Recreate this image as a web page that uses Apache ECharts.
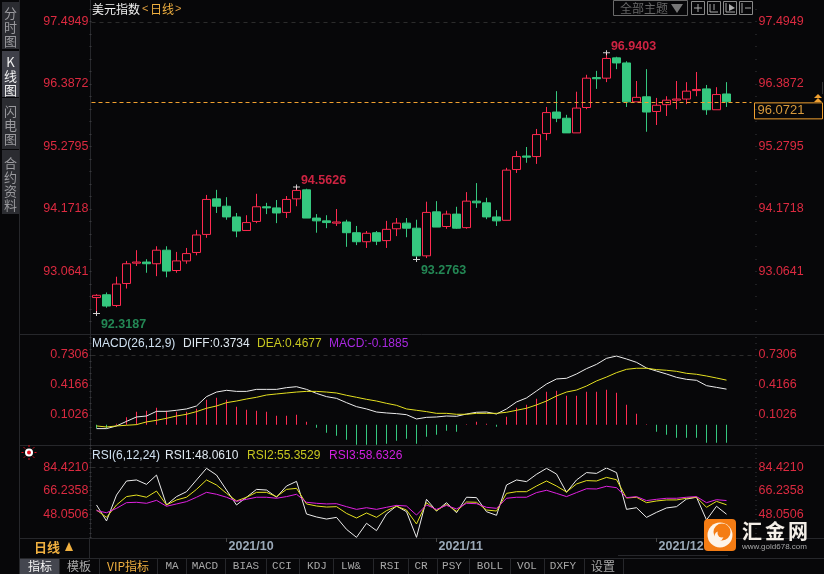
<!DOCTYPE html>
<html>
<head>
<meta charset="utf-8">
<style>html,body{margin:0;padding:0;background:#070709;overflow:hidden}#c{width:824px;height:574px}</style>
<script src="https://cdn.jsdelivr.net/npm/echarts@6/dist/echarts.min.js"></script>
</head>
<body>
<div id="c"></div>
<script>
// Daily candles of the US dollar index: [open, close, low, high]
const candles = [
[92.60,92.64,92.3187,92.66],[92.65,92.45,92.42,92.69],[92.46,92.84,92.43,92.97],[92.85,93.20,92.76,93.25],
[93.21,93.23,93.16,93.44],[93.23,93.20,93.04,93.28],[93.20,93.44,92.98,93.51],[93.44,93.07,92.96,93.51],
[93.08,93.25,93.04,93.41],[93.25,93.38,93.20,93.48],[93.40,93.71,93.35,93.80],[93.72,94.34,93.66,94.42],
[94.35,94.22,94.10,94.51],[94.22,94.03,93.98,94.38],[94.03,93.78,93.67,94.10],[93.79,93.93,93.78,94.06],
[93.95,94.21,93.92,94.44],[94.21,94.19,94.08,94.28],[94.19,94.10,93.92,94.33],[94.11,94.34,94.01,94.40],
[94.35,94.50,94.22,94.5626],[94.51,94.01,94.01,94.53],[94.01,93.96,93.75,94.08],[93.96,93.93,93.83,94.06],
[93.92,93.94,93.87,94.17],[93.94,93.75,93.50,93.98],[93.75,93.59,93.53,93.87],[93.59,93.74,93.48,93.78],
[93.75,93.60,93.53,93.78],[93.61,93.81,93.48,93.96],[93.82,93.92,93.69,94.01],[93.92,93.83,93.67,94.01],
[93.83,93.34,93.2763,93.98],[93.34,94.11,93.30,94.30],[94.12,93.85,93.85,94.31],[93.86,94.08,93.82,94.14],
[94.08,93.83,93.82,94.21],[93.84,94.31,93.82,94.47],[94.31,94.28,94.19,94.63],[94.28,94.03,93.99,94.37],
[94.03,93.96,93.87,94.15],[93.97,94.86,93.97,94.90],[94.87,95.10,94.81,95.20],[95.11,95.09,94.99,95.27],
[95.10,95.49,94.97,95.59],[95.51,95.88,95.39,95.98],[95.89,95.78,95.71,96.26],[95.78,95.52,95.52,95.84],
[95.52,95.96,95.52,96.25],[95.97,96.49,95.94,96.55],[96.50,96.48,96.30,96.62],[96.49,96.84,96.42,96.9403],
[96.85,96.76,96.65,96.87],[96.76,96.07,95.98,96.79],[96.07,96.15,96.07,96.44],[96.16,95.89,95.54,96.65],
[95.90,96.01,95.66,96.14],[96.02,96.10,95.82,96.17],[96.10,96.12,95.94,96.44],[96.12,96.26,96.03,96.42],
[96.27,96.29,96.17,96.60],[96.30,95.93,95.84,96.37],[95.93,96.20,95.93,96.33],[96.21,96.0721,95.98,96.42]
];

const macdHist = [-0.035,-0.035,0.01,0.08,0.136,0.147,0.178,0.147,0.136,0.136,0.168,0.262,0.283,0.262,0.188,0.157,
0.147,0.136,0.094,0.094,0.105,0.031,-0.031,-0.084,-0.115,-0.157,-0.209,-0.209,-0.209,-0.199,-0.168,-0.147,
-0.199,-0.126,-0.105,-0.063,-0.073,0.005,0.031,0.01,-0.02,0.084,0.178,0.209,0.272,0.346,0.356,0.304,
0.304,0.346,0.346,0.366,0.335,0.209,0.115,0.005,-0.073,-0.105,-0.136,-0.136,-0.136,-0.188,-0.188,-0.1885];

const diff = [-0.04,-0.04,-0.012,0.036,0.082,0.092,0.141,0.141,0.152,0.166,0.197,0.295,0.343,0.361,0.35,0.35,
0.371,0.371,0.371,0.389,0.399,0.371,0.329,0.295,0.277,0.232,0.19,0.166,0.134,0.124,0.117,0.106,0.061,
0.078,0.082,0.092,0.089,0.113,0.131,0.134,0.113,0.166,0.239,0.281,0.354,0.427,0.48,0.487,0.532,0.588,
0.633,0.696,0.72,0.689,0.654,0.595,0.563,0.532,0.497,0.476,0.466,0.41,0.392,0.3734];

const dea = [-0.012,-0.023,-0.012,-0.005,0.002,0.03,0.047,0.068,0.092,0.11,0.138,0.173,0.197,0.232,0.249,0.27,
0.288,0.312,0.323,0.333,0.343,0.35,0.35,0.343,0.333,0.309,0.288,0.267,0.249,0.225,0.204,0.166,0.152,
0.138,0.12,0.12,0.11,0.11,0.12,0.12,0.12,0.131,0.152,0.173,0.208,0.249,0.302,0.343,0.364,0.406,
0.459,0.5,0.546,0.581,0.592,0.592,0.578,0.571,0.56,0.539,0.529,0.511,0.49,0.4677];

const rsi1 = [55.2,42.8,62.9,73.8,74.6,71.2,78.4,55.2,61.7,65.5,74.6,83.6,78.4,66.8,55.2,61.2,67.3,66.8,61.2,69.9,
73.5,48.2,45.9,44.3,45.6,36.3,30.1,41.0,35.3,48.2,54.4,50.0,30.1,59.6,50.5,57.0,49.2,61.2,60.9,50.0,47.2,
70.7,74.6,73.3,79.0,83.6,79.2,65.0,74.6,80.3,79.7,83.9,80.3,51.8,53.1,45.6,49.5,52.9,53.9,59.8,61.2,43.6,54.2,48.061];

const rsi2 = [51.3,45.6,55.2,61.7,62.9,61.2,66.0,55.2,59.1,61.2,67.3,74.6,70.7,64.2,58.3,61.2,65.0,65.0,61.7,67.3,
68.1,56.0,54.4,53.6,53.9,48.7,45.1,49.0,45.6,50.8,54.2,51.3,40.5,57.0,50.8,55.7,50.3,57.5,57.3,51.3,50.5,
64.2,65.5,65.5,69.9,73.8,69.9,65.3,71.5,74.1,73.8,76.6,74.8,60.6,61.2,57.0,58.3,59.1,59.1,60.4,61.2,53.4,58.0,55.3529];

const rsi3 = [50.8,49.2,52.6,57.0,57.3,56.5,58.8,54.2,56.0,57.8,61.2,65.0,63.5,61.2,58.0,59.6,61.2,61.2,60.4,61.7,
63.5,57.3,56.5,56.0,56.2,53.9,51.8,53.1,51.8,53.4,54.9,54.4,47.4,55.2,51.8,54.9,52.1,56.5,56.2,53.4,52.6,
60.4,61.2,61.2,64.8,66.6,64.2,61.7,64.8,67.8,67.6,69.7,68.6,60.9,61.7,58.6,59.6,60.4,60.4,61.2,61.7,57.0,59.3,58.6326];

const priceTicks = [97.4949,96.3872,95.2795,94.1718,93.0641];
const macdTicks = [0.7306,0.4166,0.1026];
const rsiTicks = [84.4210,66.2358,48.0506];
const monthLabels = {13:'2021/10',34:'2021/11',56:'2021/12'};
// Highs and lows picked out on the price panel: [candle index, which value, colour key]
const extremes = [[0,'low','down'],[20,'high','up'],[32,'low','down'],[51,'high','up']];
const tabs = ['指标','模板','VIP指标','MA','MACD','BIAS','CCI','KDJ','LW&','RSI','CR','PSY','BOLL','VOL','DXFY','设置'];
const tabCentres = [40,79,128,172,205,246,282,317,351,390,421,452,490,527,563,603];
const tabEdges = [59,99,157,186,225,266,299,333,373,408,437,469,510,544,584,623];

const BG='#070709', RED='#ff2a50', LABELRED='#dc2a40', GREEN='#35c87f', LBLGREEN='#2aa868', YEL='#e4e020', MAG='#e020e0';
const LINE='#26272b', TICK='#3a3a3e';
const SANS='"Liberation Sans"', CJK='"Noto Sans CJK SC"';

const categories = Array.from({length:66},(_,i)=>String(i));
const last = candles.length-1;
const lastClose = candles[last][1];

// Axis minor ticks: five divisions per labelled step, across the whole panel range
function ticksFor(list,min,max){
  const step=(list[0]-list[1])/5, out=[];
  for(let v=list[0]+step*20;v>=min;v-=step){ if(v<=max) out.push(+v.toFixed(5)); }
  return out;
}

function priceAxis(gridIndex,min,max,ticks,side){
  const left=side==='left';
  return {
    type:'value',gridIndex,min,max,position:side,offset:left?0:4,scale:true,
    axisLine:{show:false},splitLine:{show:false},
    axisTick:{show:true,inside:false,length:left?2:1,lineStyle:{color:TICK},customValues:ticksFor(ticks,min,max)},
    axisLabel:{show:true,color:LABELRED,fontFamily:SANS,fontSize:12.5,margin:3,
      customValues:ticks,formatter:v=>v.toFixed(4),padding:[0,0,2,0]}
  };
}

function dashTop(value){
  return {silent:true,symbol:'none',animation:false,label:{show:false},
    lineStyle:{color:'#2c2c2c',type:[4,4],width:1},data:[{yAxis:value}]};
}

const extremeData = extremes.map(([i,key,kind])=>{
  const v=candles[i][key==='low'?2:3];
  const green=kind==='down';
  return {value:[i,v],label:{show:true,formatter:v.toFixed(4),color:green?LBLGREEN:RED,
    position:key==='low'?'bottom':'top',
    offset:key==='low'?[27,-3]:[27,8]}};
});

const option = {
  backgroundColor:BG,animation:false,
  grid:[
    {left:91.5,top:4,width:660,height:329},
    {left:91.5,top:335,width:660,height:110},
    {left:91.5,top:448,width:660,height:90}
  ],
  xAxis:[0,1,2].map(g=>({
    type:'category',gridIndex:g,data:categories,boundaryGap:true,show:g===2,
    axisLine:{show:false},
    axisTick:{show:g===2,alignWithLabel:true,length:4,lineStyle:{color:'#444'},interval:(i)=>monthLabels[i]!==undefined},
    axisLabel:{show:g===2,interval:(i)=>monthLabels[i]!==undefined,formatter:(v,i)=>monthLabels[i]||'',
      color:'#9aa8b8',fontFamily:SANS,fontWeight:'bold',fontSize:12.5,align:'left',margin:2,padding:[0,0,0,2]},
    splitLine:{show:false}
  })),
  yAxis:[
    priceAxis(0,91.9719,97.8052,priceTicks,'left'),
    priceAxis(0,91.9719,97.8052,priceTicks,'right'),
    priceAxis(1,-0.2115,0.9403,macdTicks,'left'),
    priceAxis(1,-0.2115,0.9403,macdTicks,'right'),
    priceAxis(2,29.6,99.38,rsiTicks,'left'),
    priceAxis(2,29.6,99.38,rsiTicks,'right')
  ],
  series:[
    {type:'candlestick',xAxisIndex:0,yAxisIndex:0,data:candles,barWidth:9,
      itemStyle:{color:BG,color0:GREEN,borderColor:RED,borderColor0:GREEN,borderWidth:1},
      markLine:dashTop(priceTicks[0])},
    {type:'line',xAxisIndex:0,yAxisIndex:0,data:[],showSymbol:false,silent:true,
      markLine:{silent:true,symbol:'none',animation:false,
        lineStyle:{color:'#f0a030',type:[4,3],width:1},
        label:{show:true,position:'end',distance:3,formatter:()=>lastClose.toFixed(4),color:'#d89a3c',fontFamily:SANS,fontSize:13,
          borderColor:'#f0a030',borderWidth:1,padding:[2,18,1,3],offset:[0,9]},
        data:[{yAxis:lastClose}]}},
    {type:'scatter',xAxisIndex:0,yAxisIndex:0,data:extremeData,z:5,silent:true,
      symbol:'path://M0 2H7V3H0Z M3 0H4V5H3Z',symbolSize:[7,5],itemStyle:{color:'#ffffff'},
      label:{fontFamily:SANS,fontSize:12.5,fontWeight:'bold'}},

    {type:'bar',xAxisIndex:1,yAxisIndex:2,data:macdHist,barWidth:1,silent:true,
      itemStyle:{color:p=>p.value>=0?RED:GREEN},markLine:dashTop(macdTicks[0])},
    {type:'line',xAxisIndex:1,yAxisIndex:2,data:diff,showSymbol:false,lineStyle:{color:'#ececec',width:1},silent:true},
    {type:'line',xAxisIndex:1,yAxisIndex:2,data:dea,showSymbol:false,lineStyle:{color:YEL,width:1},silent:true},

    {type:'line',xAxisIndex:2,yAxisIndex:4,data:rsi1,showSymbol:false,lineStyle:{color:'#ececec',width:1},silent:true,markLine:dashTop(rsiTicks[0])},
    {type:'line',xAxisIndex:2,yAxisIndex:4,data:rsi2,showSymbol:false,lineStyle:{color:YEL,width:1},silent:true},
    {type:'line',xAxisIndex:2,yAxisIndex:4,data:rsi3,showSymbol:false,lineStyle:{color:MAG,width:1},silent:true}
  ],
  graphic:[]
};

// Terminal chrome around the plots
const g=[];
const hline=(x1,x2,y,c=LINE)=>g.push({type:'line',silent:true,shape:{x1,y1:y+.5,x2,y2:y+.5},style:{stroke:c,lineWidth:1}});
const vline=(x,y1,y2,c=LINE)=>g.push({type:'line',silent:true,shape:{x1:x+.5,y1,x2:x+.5,y2},style:{stroke:c,lineWidth:1}});
const box=(x,y,w,h,fill,stroke,r)=>g.push({type:'rect',silent:true,shape:{x,y,width:w,height:h,r:r||0},style:{fill:fill||'none',stroke:stroke||'none',lineWidth:1}});
const txt=(x,y,text,fill,font,align,base,z)=>g.push({type:'text',silent:true,z:z||1,style:{x,y,text,fill,font,textAlign:align||'left',textVerticalAlign:base||'middle'}});

vline(19,0,574);
vline(90,0,538);
hline(19,824,334);
hline(19,824,445);
hline(19,824,538);
hline(19,824,558);
vline(89,538,558);

// Side tabs
const side=[[2,47,'分\n时\n图','#9a9a9e','#2b2c31',2],[2,46,'K\n线\n图','#f0f0f0','#3f4049',51],[2,51,'闪\n电\n图','#9a9a9e','#2b2c31',98],[2,64,'合\n约\n资\n料','#9a9a9e','#2b2c31',150]];
side.forEach(([x,h,t,c,b,y])=>{
  box(x,y,17,h,b);
  g.push({type:'text',silent:true,style:{x:10.5,y:y+h/2+2,text:t,fill:c,font:'13px '+CJK,textAlign:'center',textVerticalAlign:'middle',lineHeight:14}});
});

// Title
txt(92,9,'美元指数','#f2f2f2','12px '+CJK);
txt(142,9,'<','#e0a040','11px '+SANS);
txt(150,9,'日线','#f0b040','12px '+CJK);
txt(175,9,'>','#e0a040','11px '+SANS);

// Top-right toolbar
box(613.5,0.5,74,15,null,'#6a6a6a');
txt(620,8,'全部主题','#666','12px '+CJK);
g.push({type:'polygon',silent:true,shape:{points:[[671,4],[683,4],[677,13]]},style:{fill:'#777'}});
[691,707,723,739].forEach(x=>box(x+.5,1.5,13,13,null,'#8a8a8a'));
g.push({type:'polyline',silent:true,shape:{points:[[694,8],[702,8]]},style:{stroke:'#aaa'}});
g.push({type:'polyline',silent:true,shape:{points:[[698,4],[698,12]]},style:{stroke:'#aaa'}});
g.push({type:'polyline',silent:true,shape:{points:[[710,4],[710,12],[718,12]]},style:{stroke:'#aaa',fill:'none'}});
g.push({type:'polyline',silent:true,shape:{points:[[714,4],[714,10]]},style:{stroke:'#aaa'}});
g.push({type:'polyline',silent:true,shape:{points:[[726,3],[726,12],[735,12]]},style:{stroke:'#aaa',fill:'none'}});
g.push({type:'polygon',silent:true,shape:{points:[[729,4],[735,8],[729,11]]},style:{fill:'#aaa'}});
g.push({type:'polyline',silent:true,shape:{points:[[742,3],[742,13]]},style:{stroke:'#aaa'}});
g.push({type:'polyline',silent:true,shape:{points:[[745,8],[751,8]]},style:{stroke:'#aaa'}});

// Current price chevrons and the thin scroll mark at the far right
g.push({type:'polygon',silent:true,shape:{points:[[818,94],[822,98],[814,98]]},style:{fill:'#f0a030'}});
g.push({type:'polygon',silent:true,shape:{points:[[818,98],[822,102],[814,102]]},style:{fill:'#f0a030'}});
vline(822,82,94,'#333');

// Indicator readouts
const f12='12px '+SANS;
txt(92,343.5,'MACD(26,12,9)','#cfe0f0',f12);
txt(183,343.5,'DIFF:'+diff[last].toFixed(4),'#dfe8f0',f12);
txt(257,343.5,'DEA:'+dea[last].toFixed(4),'#c8c820',f12);
txt(329,343.5,'MACD:'+macdHist[last].toFixed(4),'#a828e0',f12);
txt(92,455.5,'RSI(6,12,24)','#cfe0f0',f12);
txt(165,455.5,'RSI1:'+rsi1[last].toFixed(4),'#dfe8f0',f12);
txt(247,455.5,'RSI2:'+rsi2[last].toFixed(4),'#c8c820',f12);
txt(329,455.5,'RSI3:'+rsi3[last].toFixed(4),'#d020e0',f12);

// Indicator switch icon
g.push({type:'circle',silent:true,shape:{cx:29,cy:452.5,r:4},style:{fill:'#fff'}});
g.push({type:'circle',silent:true,shape:{cx:29,cy:452.5,r:2},style:{fill:'#e01020'}});
for(let a=0;a<8;a++){
  const t=a*Math.PI/4,c=Math.cos(t),s=Math.sin(t);
  g.push({type:'line',silent:true,shape:{x1:29+c*5.5,y1:452.5+s*5.5,x2:29+c*7.5,y2:452.5+s*7.5},style:{stroke:'#e01020',lineWidth:1}});
}

// Period selector
txt(34,547,'日线','#f0b040','bold 13px '+CJK);
g.push({type:'polygon',silent:true,shape:{points:[[69,542],[73,551],[65,551]]},style:{fill:'#f0b040'}});

// Bottom tab strip
box(20,559,39,15,'#44464f');
tabs.forEach((t,i)=>{
  const cn=/[\u4e00-\u9fff]/.test(t);
  const col=i===0?'#f4f4f4':(i===2?'#f0b040':'#a8a8a8');
  txt(tabCentres[i],566.5,t,col,(cn?'12px '+CJK:'11px "Liberation Mono"'),'center');
  vline(tabEdges[i],559,574,'#26272b');
});
hline(618,728,555,'#26272b');

// Brand mark over the lower right corner
const Z=50;
g.push({type:'rect',silent:true,z:Z,shape:{x:704,y:519,width:32,height:32,r:4},style:{fill:'#f47c14'}});
g.push({type:'circle',silent:true,z:Z,shape:{cx:720,cy:535,r:12.5},style:{fill:'#fdf4ea'}});
g.push({type:'circle',silent:true,z:Z,shape:{cx:722,cy:532,r:8.5},style:{fill:'#f47c14'}});
g.push({type:'circle',silent:true,z:Z,shape:{cx:719,cy:536,r:4.5},style:{fill:'#fdf4ea'}});
g.push({type:'circle',silent:true,z:Z,shape:{cx:722,cy:533,r:4.5},style:{fill:'#f47c14'}});
['汇','金','网'].forEach((c,i)=>txt(752+i*23,531.5,c,'#f4efe8','bold 20px '+CJK,'center','middle',Z));
txt(742,547,'www.gold678.com','#a8a8a8','8px '+SANS,'left','middle',Z);

option.graphic=g;
echarts.init(document.getElementById('c')).setOption(option);
</script>
</body>
</html>
